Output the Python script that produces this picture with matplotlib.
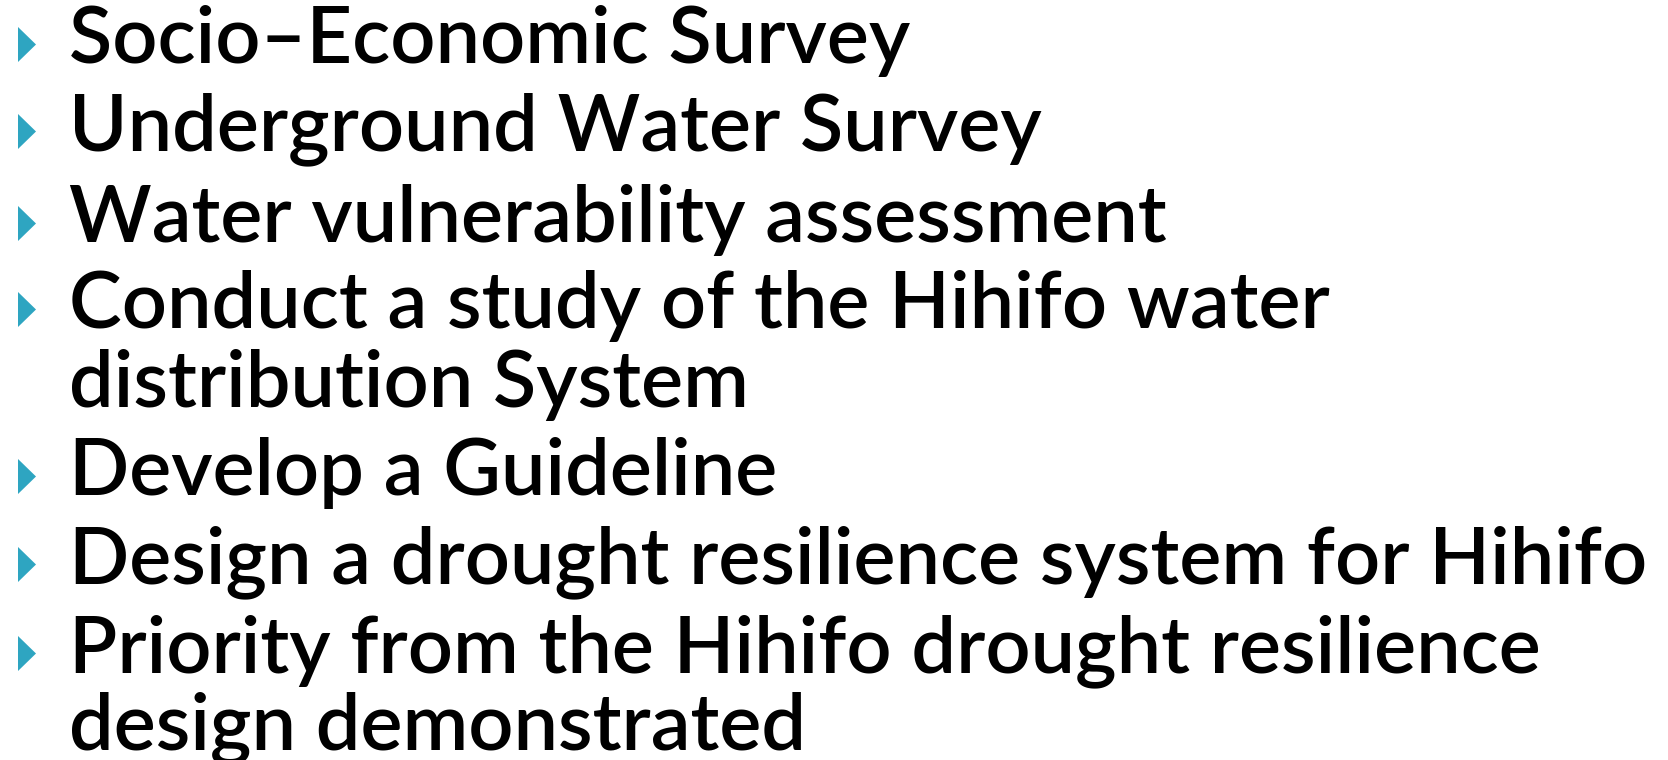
import matplotlib
matplotlib.use("Agg")
import matplotlib.pyplot as plt
from matplotlib.patches import Polygon

# Slide content
items = [
    ["Socio\u2013Economic Survey"],
    ["Underground Water Survey"],
    ["Water vulnerability assessment"],
    ["Conduct a study of the Hihifo water", "distribution System"],
    ["Develop a Guideline"],
    ["Design a drought resilience system for Hihifo"],
    ["Priority from the Hihifo drought resilience", "design demonstrated"],
]
# baselines (pixels from top) for each text line
baselines = [63, 150, 242, 328, 407, 495, 583, 672, 749]

W, H = 1668, 760
fig = plt.figure(figsize=(W / 100, H / 100), dpi=100)
ax = fig.add_axes([0, 0, 1, 1])
ax.set_xlim(0, W)
ax.set_ylim(H, 0)
ax.axis("off")

family = "Lato"
weight = "semibold"
text_x = 69
target_width = 1649 - 70
bullet_color = "#2EA5C1"

# fit font size to longest line width
probe = ax.text(0, 0, items[5][0], fontsize=50, family=family, weight=weight)
fig.canvas.draw()
w = probe.get_window_extent().width
probe.remove()
fs = 50 * target_width / w

k = 0
for item in items:
    for j, line in enumerate(item):
        b = baselines[k]
        ax.text(text_x, b, line, fontsize=fs, family=family, weight=weight,
                color="black", va="baseline", ha="left")
        if j == 0:
            tri = Polygon([[18, b - 36], [18, b - 1], [36, b - 18.5]],
                          closed=True, color=bullet_color, lw=0)
            ax.add_patch(tri)
        k += 1

fig.savefig("out.png", dpi=100)
